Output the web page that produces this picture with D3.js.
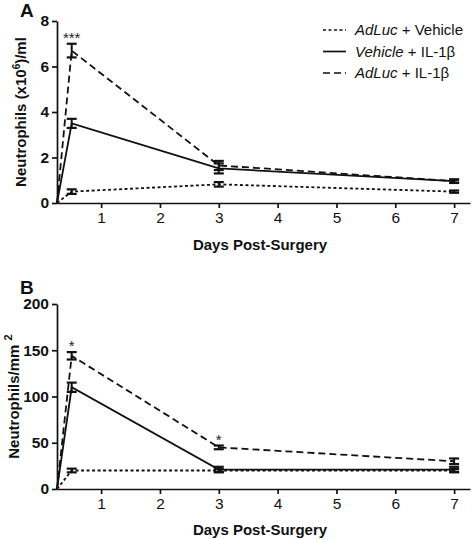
<!DOCTYPE html>
<html><head><meta charset="utf-8">
<script src="https://cdn.jsdelivr.net/npm/d3@7"></script>
<style>
html,body{margin:0;padding:0;background:#fff;}
svg{display:block;font-family:"Liberation Sans",Arial,sans-serif;}
</style></head>
<body>
<svg id="c" width="472" height="540"></svg>
<script>
// ---- data ----
const days = [0.25, 0.5, 3, 7];
const xTicks = [1, 2, 3, 4, 5, 6, 7];
const seriesNames = ["AdLuc + Vehicle", "Vehicle + IL-1\u03b2", "AdLuc + IL-1\u03b2"];
// Panel A: Neutrophils (x10^6)/ml
const aTicks = [0, 2, 4, 6, 8];
const aAdLucVehicle = [0, 0.5, 0.82, 0.5];
const aAdLucVehicleErr = [0, 0.1, 0.1, 0.05];
const aVehicleIL1 = [0, 3.5, 1.52, 0.96];
const aVehicleIL1Err = [0, 0.2, 0.22, 0.08];
const aAdLucIL1 = [0, 6.7, 1.65, 0.96];
const aAdLucIL1Err = [0, 0.3, 0.2, 0.06];
const aStars = [{day: 0.5, value: 7.0, text: "***"}];
// Panel B: Neutrophils/mm^2
const bTicks = [0, 50, 100, 150, 200];
const bAdLucVehicle = [0, 20, 20, 20];
const bAdLucVehicleErr = [0, 2, 1.5, 1.5];
const bVehicleIL1 = [0, 110, 21, 21];
const bVehicleIL1Err = [0, 5, 3, 3];
const bAdLucIL1 = [0, 144, 45, 30];
const bAdLucIL1Err = [0, 4, 2, 3];
const bStars = [{day: 0.5, value: 148, text: "*"}, {day: 3, value: 47, text: "*"}];

const dashes = ["3,2.5", null, "7,4"];

const svg = d3.select("#c");
const x = d3.scaleLinear().domain([0.25, 7.27]).range([57, 470]);

function panel(opts) {
  const y = d3.scaleLinear().domain(opts.domain).range(opts.range);
  const g = svg.append("g");
  const ya = g.append("g").attr("transform", `translate(${x.range()[0]},0)`)
    .call(d3.axisLeft(y).tickValues(opts.ticks).tickSize(5).tickPadding(3).tickSizeOuter(0));
  ya.selectAll("text").attr("font-size", 15.5).attr("font-weight", "bold").attr("fill", "#111");
  const xa = g.append("g").attr("transform", `translate(0,${opts.range[0]})`)
    .call(d3.axisBottom(x).tickValues(xTicks).tickSize(5).tickPadding(4).tickSizeOuter(0).tickFormat(d3.format("d")));
  xa.selectAll("text").attr("font-size", 15.5).attr("fill", "#111");
  g.selectAll(".domain, .tick line").attr("stroke", "#111").attr("stroke-width", 1.7);

  opts.series.forEach((s, i) => {
    const pts = days.map((d, j) => ({d, v: s.values[j], e: s.err[j]}));
    g.append("path").datum(pts)
      .attr("fill", "none").attr("stroke", "#111").attr("stroke-width", 1.8)
      .attr("stroke-dasharray", dashes[i])
      .attr("d", d3.line().x(p => x(p.d)).y(p => y(p.v)));
    const eb = g.append("g");
    pts.filter(p => p.e > 0).forEach(p => {
      const cx = x(p.d), y1 = y(p.v + p.e), y2 = y(p.v - p.e);
      eb.append("line").attr("x1", cx).attr("x2", cx).attr("y1", y1).attr("y2", y2)
        .attr("stroke", "#111").attr("stroke-width", 2);
      [y1, y2].forEach(yy => eb.append("line").attr("x1", cx - 5).attr("x2", cx + 5)
        .attr("y1", yy).attr("y2", yy).attr("stroke", "#111").attr("stroke-width", 2.2));
    });
  });

  opts.stars.forEach(s => {
    g.append("text").attr("x", x(s.day)).attr("y", y(s.value) - 1)
      .attr("text-anchor", "middle").attr("font-size", 15).attr("fill", "#222").text(s.text);
  });

  g.append("text").attr("x", 20).attr("y", opts.letterY).attr("font-size", 19)
    .attr("font-weight", "bold").attr("fill", "#111").text(opts.letter);

  g.append("text").attr("x", 260).attr("y", opts.range[0] + opts.xtitleDy)
    .attr("text-anchor", "middle").attr("font-size", 15).attr("font-weight", "bold")
    .attr("fill", "#111").text("Days Post-Surgery");

  const yc = (opts.range[0] + opts.range[1]) / 2;
  const t = g.append("text").attr("transform", `translate(${opts.ytitleX},${yc}) rotate(-90)`)
    .attr("text-anchor", "middle").attr("font-size", 15).attr("font-weight", "bold").attr("fill", "#111");
  opts.ytitle(t);
}

panel({
  domain: [0, 8], range: [203, 21], ticks: aTicks, letter: "A", letterY: 17,
  xtitleDy: 47, ytitleX: 26,
  series: [
    {values: aAdLucVehicle, err: aAdLucVehicleErr},
    {values: aVehicleIL1, err: aVehicleIL1Err},
    {values: aAdLucIL1, err: aAdLucIL1Err}
  ],
  stars: aStars,
  ytitle: t => {
    t.append("tspan").text("Neutrophils (x10");
    t.append("tspan").attr("font-size", 10).attr("dy", -6).text("6");
    t.append("tspan").attr("dy", 6).text(")/ml");
  }
});

panel({
  domain: [0, 200], range: [489, 304], ticks: bTicks, letter: "B", letterY: 294,
  xtitleDy: 46, ytitleX: 19,
  series: [
    {values: bAdLucVehicle, err: bAdLucVehicleErr},
    {values: bVehicleIL1, err: bVehicleIL1Err},
    {values: bAdLucIL1, err: bAdLucIL1Err}
  ],
  stars: bStars,
  ytitle: t => {
    t.append("tspan").text("Neutrophils/mm ");
    t.append("tspan").attr("font-size", 11).attr("dy", -7).text("2");
  }
});

const lg = svg.append("g");
seriesNames.forEach((name, i) => {
  const yy = 30 + i * 21.5;
  lg.append("line").attr("x1", 323).attr("x2", 346).attr("y1", yy).attr("y2", yy)
    .attr("stroke", "#111").attr("stroke-width", 1.7).attr("stroke-dasharray", dashes[i]);
  const parts = name.split(" + ");
  const tx = lg.append("text").attr("x", 355).attr("y", yy + 5).attr("font-size", 15).attr("fill", "#111");
  tx.append("tspan").attr("font-style", "italic").text(parts[0]);
  tx.append("tspan").text(" + " + parts[1]);
});
</script>
</body></html>
